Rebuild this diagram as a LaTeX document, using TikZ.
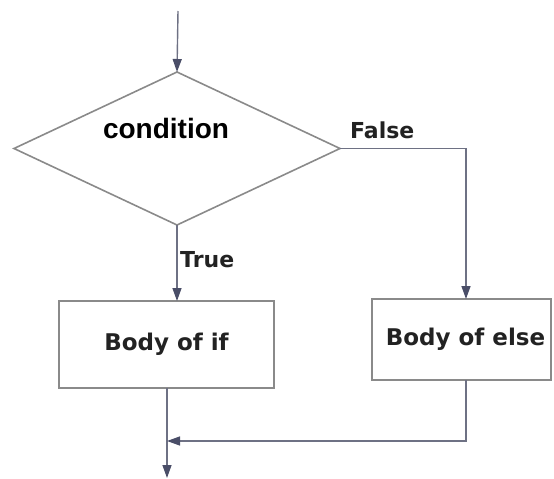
\documentclass[tikz,border=0pt]{standalone}
\usepackage{fontspec}
\setmainfont{DejaVu Sans}
\newfontfamily\headfont{Liberation Sans}
\usetikzlibrary{arrows.meta,shapes.geometric}
\definecolor{shapeline}{HTML}{8A8A8A}
\definecolor{flowline}{HTML}{6E7184}
\definecolor{tipcolor}{HTML}{4A4E68}
\definecolor{labeltext}{HTML}{222222}
\begin{document}
\begin{tikzpicture}[x=1pt,y=-1pt,
  shapebox/.style={draw=shapeline,line width=1.6pt,inner sep=0pt,outer sep=0pt},
  flow/.style={draw=flowline,line width=1.4pt,
    -{Triangle[length=13pt,width=9pt,color=tipcolor]}},
  plain/.style={draw=flowline,line width=1.4pt},
  lbl/.style={inner sep=0pt,text=labeltext,font=\fontsize{22}{24}\selectfont\bfseries},
  boxtext/.style={text=labeltext,font=\fontsize{23}{26}\selectfont\bfseries}]
\useasboundingbox (0,0) rectangle (554,479);

% decision and the two branches
\node[shapebox,diamond,minimum width=326pt,minimum height=153pt] (cond) at (177,148.5) {};
\node[inner sep=0pt,anchor=base,text=black,font=\headfont\fontsize{28}{30}\selectfont\bfseries]
  (condtext) at (166,138) {condition};
\node[shapebox,rectangle,minimum width=215pt,minimum height=87pt] (ifbox) at (166.5,344.5) {};
\node[boxtext] (iftext) at (ifbox.center) {Body of if};
\node[shapebox,rectangle,minimum width=179pt,minimum height=81pt] (elsebox) at (461.5,339.5) {};
\node[boxtext] (elsetext) at (465.5,339.5) {Body of else};

% branch labels
\node[lbl,anchor=base west] (falselbl) at (350,138) {False};
\node[lbl,anchor=base west] (truelbl) at (180,267) {True};

% flow lines
\coordinate (start) at (178,11);
\coordinate (elsein) at ([xshift=4.5pt]elsebox.north);
\coordinate (elseout) at ([xshift=4.5pt]elsebox.south);
\coordinate (join) at (167,441);
\coordinate (finish) at (167,478);
\coordinate (ifout) at (join |- ifbox.south);

\draw[flow] (start) -- (cond.north);
\draw[flow] (cond.east) -| (elsein);
\draw[flow] (cond.south) -- (cond.south |- ifbox.north);
\draw[flow] (ifout) -- (finish);
\draw[flow] (elseout) |- (join);
\end{tikzpicture}
\end{document}
